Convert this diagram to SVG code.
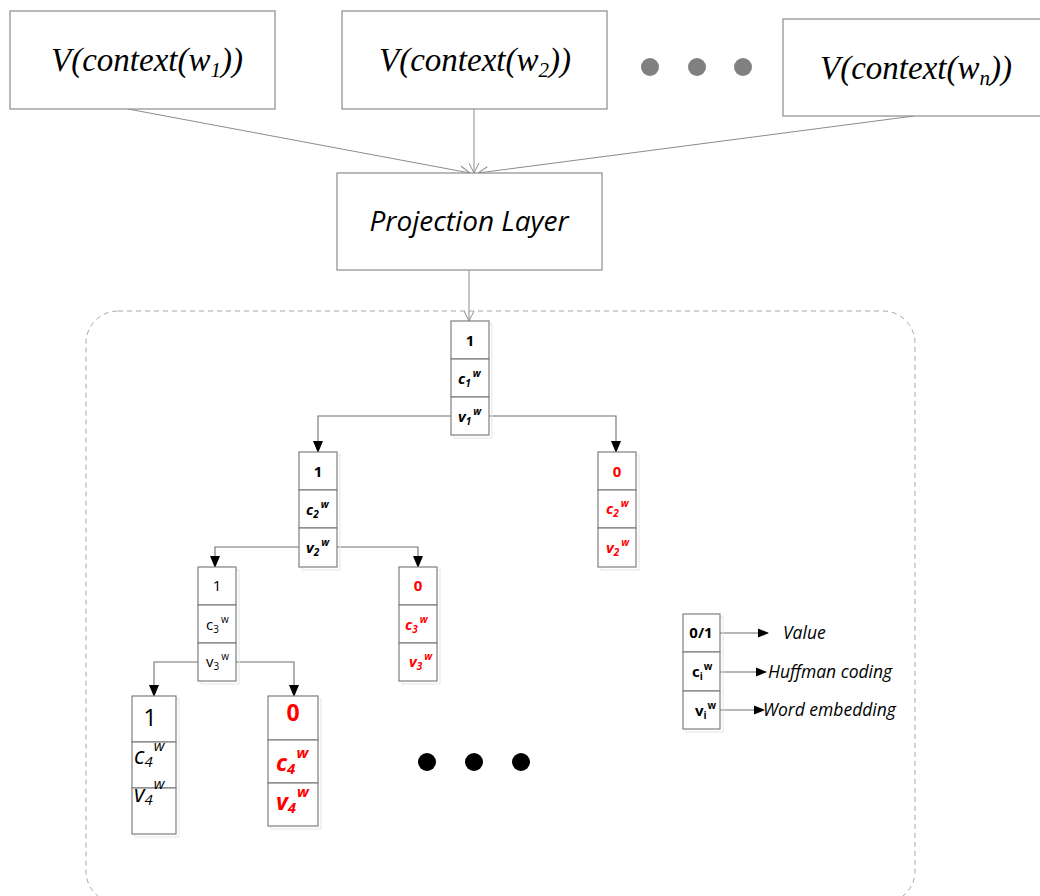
<svg xmlns="http://www.w3.org/2000/svg" width="1040" height="896" viewBox="0 0 1040 896">
<style>
.box{fill:#fff;stroke:#8c8c8c;stroke-width:1.2}
.cell{fill:#fff;stroke:#7f7f7f;stroke-width:1.2}
.shadow{fill:none;stroke:#e6e6e6;stroke-width:1}
.serif{font-family:"Liberation Serif",serif;font-style:italic;font-size:33px;fill:#000}
.sans{font-family:"Open Sans","Liberation Sans",sans-serif}
.b{font-weight:bold;font-size:15px}
.bi{font-weight:bold;font-style:italic;font-size:15px}
.red{fill:#ff0000}
.con{fill:none;stroke:#6e6e6e;stroke-width:1.1}
.top{fill:none;stroke:#8c8c8c;stroke-width:1}
.lbl{font-family:"Open Sans","Liberation Sans",sans-serif;font-style:italic;font-size:17.5px;fill:#000}
</style>
<defs>
<marker id="open" viewBox="0 0 12 12" refX="11" refY="6" markerWidth="12" markerHeight="12" markerUnits="userSpaceOnUse" orient="auto">
<path d="M1,1 L11,6 L1,11" fill="none" stroke="#8c8c8c" stroke-width="1"/>
</marker>
<marker id="fill" viewBox="0 0 12 12" refX="11" refY="6" markerWidth="12" markerHeight="12" markerUnits="userSpaceOnUse" orient="auto">
<path d="M0,1 L12,6 L0,11 Z" fill="#000"/>
</marker>
<marker id="small" viewBox="0 0 12 12" refX="11" refY="6" markerWidth="11" markerHeight="11" markerUnits="userSpaceOnUse" orient="auto">
<path d="M0,1 L12,6 L0,11 Z" fill="#000"/>
</marker>
</defs>

<rect x="86" y="311" width="829" height="592" rx="32" fill="none" stroke="#a6a6a6" stroke-width="1" stroke-dasharray="5,4"/>

<g id="connectors">
<line class="top" x1="128" y1="109" x2="470" y2="173" marker-end="url(#open)"/>
<line class="top" x1="474" y1="109" x2="474" y2="173" marker-end="url(#open)"/>
<line class="top" x1="914" y1="116" x2="478" y2="173" marker-end="url(#open)"/>
<line class="top" x1="469" y1="270" x2="469" y2="321" marker-end="url(#open)"/>
<path class="con" d="M451,416 H318 V452" marker-end="url(#fill)"/>
<path class="con" d="M489,416 H616 V452" marker-end="url(#fill)"/>
<path class="con" d="M299,547 H215 V567" marker-end="url(#fill)"/>
<path class="con" d="M337,547 H418 V567" marker-end="url(#fill)"/>
<path class="con" d="M198,662 H154 V696" marker-end="url(#fill)"/>
<path class="con" d="M236,662 H294 V696" marker-end="url(#fill)"/>
<line class="con" x1="720" y1="633" x2="768" y2="633" marker-end="url(#small)"/>
<line class="con" x1="720" y1="672" x2="766" y2="672" marker-end="url(#small)"/>
<line class="con" x1="720" y1="710" x2="764" y2="710" marker-end="url(#small)"/>
</g>

<g id="ctx1">
<rect class="box" x="10" y="11" width="265" height="98"/>
<text class="serif" x="147" y="71" text-anchor="middle">V(context(w<tspan font-size="21" dy="6">1</tspan><tspan dy="-6">))</tspan></text>
</g>
<g id="ctx2">
<rect class="box" x="342" y="11" width="265" height="98"/>
<text class="serif" x="475" y="71" text-anchor="middle">V(context(w<tspan font-size="21" dy="6">2</tspan><tspan dy="-6">))</tspan></text>
</g>
<g id="ellipsis-top">
<circle cx="650" cy="67" r="9" fill="#808080"/>
<circle cx="697" cy="67" r="9" fill="#808080"/>
<circle cx="743" cy="67" r="9" fill="#808080"/>
</g>
<g id="ctxn">
<rect class="box" x="783" y="19" width="265" height="97"/>
<text class="serif" x="916" y="79" text-anchor="middle">V(context(w<tspan font-size="21" dy="6">n</tspan><tspan dy="-6">))</tspan></text>
</g>

<g id="projection">
<rect class="box" x="337" y="173" width="265" height="97"/>
<text class="sans" x="469" y="231" text-anchor="middle" font-style="italic" font-size="28">Projection Layer</text>
</g>

<g id="node1">
<rect class="shadow" x="454" y="324" width="38" height="114"/>
<rect class="cell" x="451" y="321" width="38" height="38"/>
<rect class="cell" x="451" y="359" width="38" height="38"/>
<rect class="cell" x="451" y="397" width="38" height="38"/>
<text class="sans b" x="470" y="346" text-anchor="middle">1</text>
<text class="sans bi" x="458" y="384">c<tspan font-size="10" dy="3">1</tspan><tspan font-size="10" dy="-10" dx="2">w</tspan></text>
<text class="sans bi" x="458" y="422">v<tspan font-size="10" dy="3">1</tspan><tspan font-size="10" dy="-10" dx="2">w</tspan></text>
</g>

<g id="node2">
<rect class="shadow" x="302" y="455" width="38" height="115"/>
<rect class="cell" x="299" y="452" width="38" height="38"/>
<rect class="cell" x="299" y="490" width="38" height="38"/>
<rect class="cell" x="299" y="528" width="38" height="39"/>
<text class="sans b" x="318" y="477" text-anchor="middle">1</text>
<text class="sans bi" x="306" y="515">c<tspan font-size="10" dy="3">2</tspan><tspan font-size="10" dy="-10" dx="2">w</tspan></text>
<text class="sans bi" x="306" y="553">v<tspan font-size="10" dy="3">2</tspan><tspan font-size="10" dy="-10" dx="2">w</tspan></text>
</g>

<g id="node2r">
<rect class="shadow" x="601" y="455" width="38" height="115"/>
<rect class="cell" x="598" y="452" width="38" height="38"/>
<rect class="cell" x="598" y="490" width="38" height="38"/>
<rect class="cell" x="598" y="528" width="38" height="39"/>
<text class="sans b red" x="617" y="477" text-anchor="middle">0</text>
<text class="sans bi red" x="606" y="514">c<tspan font-size="10" dy="3">2</tspan><tspan font-size="10" dy="-10" dx="2">w</tspan></text>
<text class="sans bi red" x="606" y="553">v<tspan font-size="10" dy="3">2</tspan><tspan font-size="10" dy="-10" dx="2">w</tspan></text>
</g>

<g id="node3">
<rect class="shadow" x="201" y="570" width="38" height="114"/>
<rect class="cell" x="198" y="567" width="38" height="38"/>
<rect class="cell" x="198" y="605" width="38" height="38"/>
<rect class="cell" x="198" y="643" width="38" height="38"/>
<text class="sans" font-size="15" x="217" y="591" text-anchor="middle">1</text>
<text class="sans" font-size="15" x="206" y="630">c<tspan font-size="10" dy="3">3</tspan><tspan font-size="10" dy="-10" dx="2">w</tspan></text>
<text class="sans" font-size="15" x="206" y="667">v<tspan font-size="10" dy="3">3</tspan><tspan font-size="10" dy="-10" dx="2">w</tspan></text>
</g>

<g id="node3r">
<rect class="shadow" x="402" y="570" width="38" height="114"/>
<rect class="cell" x="399" y="567" width="38" height="38"/>
<rect class="cell" x="399" y="605" width="38" height="38"/>
<rect class="cell" x="399" y="643" width="38" height="38"/>
<text class="sans b red" x="418" y="591" text-anchor="middle">0</text>
<text class="sans bi red" x="405" y="630">c<tspan font-size="10" dy="3">3</tspan><tspan font-size="10" dy="-10" dx="2">w</tspan></text>
<text class="sans bi red" x="409" y="667">v<tspan font-size="10" dy="3">3</tspan><tspan font-size="10" dy="-10" dx="2">w</tspan></text>
</g>

<g id="node4">
<rect class="shadow" x="135" y="699" width="44" height="138"/>
<rect class="cell" x="132" y="696" width="44" height="46"/>
<rect class="cell" x="132" y="742" width="44" height="46"/>
<rect class="cell" x="132" y="788" width="44" height="46"/>
<text class="sans" font-size="24" x="150" y="726" text-anchor="middle">1</text>
<text class="sans" font-style="italic" font-size="23" x="134" y="764">c<tspan font-size="15" dy="3">4</tspan><tspan font-size="15" dy="-16" dx="1">w</tspan></text>
<text class="sans" font-style="italic" font-size="23" x="134" y="802">v<tspan font-size="15" dy="3">4</tspan><tspan font-size="15" dy="-16" dx="1">w</tspan></text>
</g>

<g id="node4r">
<rect class="shadow" x="271" y="699" width="50" height="130"/>
<rect class="cell" x="268" y="696" width="50" height="44"/>
<rect class="cell" x="268" y="740" width="50" height="43"/>
<rect class="cell" x="268" y="783" width="50" height="43"/>
<text class="sans red" font-weight="bold" font-size="23" x="293" y="721" text-anchor="middle">0</text>
<text class="sans red" font-weight="bold" font-style="italic" font-size="23" x="276" y="771">c<tspan font-size="15" dy="3">4</tspan><tspan font-size="15" dy="-16" dx="1">w</tspan></text>
<text class="sans red" font-weight="bold" font-style="italic" font-size="23" x="276" y="810">v<tspan font-size="15" dy="3">4</tspan><tspan font-size="15" dy="-16" dx="1">w</tspan></text>
</g>

<g id="ellipsis-tree">
<circle cx="427" cy="762" r="9" fill="#000"/>
<circle cx="474" cy="762" r="9" fill="#000"/>
<circle cx="521" cy="762" r="9" fill="#000"/>
</g>

<g id="legend">
<rect class="shadow" x="686" y="617" width="37" height="115"/>
<rect class="cell" x="683" y="614" width="37" height="38"/>
<rect class="cell" x="683" y="652" width="37" height="39"/>
<rect class="cell" x="683" y="691" width="37" height="38"/>
<text class="sans b" x="701" y="638" text-anchor="middle">0/1</text>
<text class="sans b" x="692" y="677">c<tspan font-size="10" dy="3">i</tspan><tspan font-size="10" dy="-10" dx="1">w</tspan></text>
<text class="sans b" x="695" y="716">v<tspan font-size="10" dy="3">i</tspan><tspan font-size="10" dy="-10" dx="1">w</tspan></text>
<text class="lbl" x="783" y="639">Value</text>
<text class="lbl" x="768" y="678">Huffman coding</text>
<text class="lbl" x="763" y="716">Word embedding</text>
</g>
</svg>
